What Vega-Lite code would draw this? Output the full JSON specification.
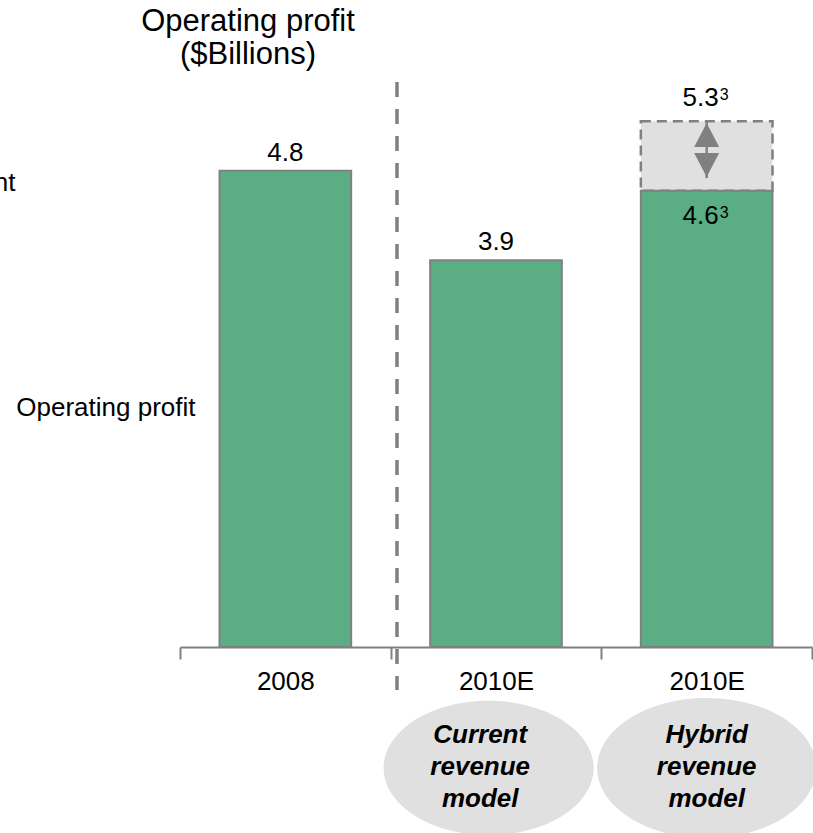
{
  "$schema": "https://vega.github.io/schema/vega-lite/v6.json",
  "width": 632,
  "height": 567,
  "autosize": {"type": "none"},
  "padding": {"left": 180, "top": 80, "right": 1, "bottom": 186},
  "background": "white",
  "title": {
    "text": ["Operating profit", "($Billions)"],
    "anchor": "start",
    "align": "center",
    "frame": "group",
    "dx": 68,
    "fontSize": 31,
    "lineHeight": 33,
    "font": "Liberation Sans",
    "fontWeight": "normal",
    "color": "black",
    "offset": 9
  },
  "data": {
    "values": [
      {"cat": "2008", "value": 4.8, "label": "4.8"},
      {"cat": "2010E|current", "value": 3.9, "label": "3.9", "model": ["Current", "revenue", "model"]},
      {"cat": "2010E|hybrid", "value": 4.6, "label": "4.6", "sup": "3", "upper": 5.3, "upperLabel": "5.3", "model": ["Hybrid", "revenue", "model"]}
    ]
  },
  "encoding": {
    "x": {
      "field": "cat",
      "type": "nominal",
      "sort": null,
      "scale": {"type": "band", "domain": ["2008", "2010E|current", "2010E|hybrid"], "paddingInner": 0, "paddingOuter": 0},
      "axis": {
        "title": null,
        "labelExpr": "split(datum.label, '|')[0]",
        "labelAngle": 0,
        "labelFont": "Liberation Sans",
        "labelFontSize": 26,
        "labelColor": "black",
        "labelPadding": 9,
        "tickBand": "extent",
        "tickSize": 12,
        "tickWidth": 2,
        "tickColor": "#808080",
        "domainColor": "#808080",
        "domainWidth": 2,
        "grid": false,
        "zindex": 1
      }
    }
  },
  "layer": [
    {
      "transform": [{"filter": "datum.cat === '2010E|current'"}],
      "mark": {"type": "point", "shape": "M-1,0 A1,0.64 0 1,1 1,0 A1,0.64 0 1,1 -1,0 Z", "size": 44100, "filled": true, "color": "#E0E0E0", "opacity": 1, "strokeWidth": 0},
      "encoding": {
        "x": {"field": "cat", "type": "nominal", "bandPosition": 0.465},
        "y": {
          "datum": -1.22,
          "type": "quantitative",
          "scale": {"domain": [0, 5.716], "nice": false, "zero": false},
          "axis": {
            "title": "Operating profit",
            "titleAngle": 0,
            "titleAlign": "right",
            "titleBaseline": "alphabetic",
            "titleX": 15,
            "titleY": 335,
            "titleFont": "Liberation Sans",
            "titleFontSize": 26,
            "titleFontWeight": "normal",
            "titleColor": "black",
            "domain": false,
            "ticks": false,
            "grid": false,
            "values": [4.607],
            "labelExpr": "'nt'",
            "labelFont": "Liberation Sans",
            "labelFontSize": 26,
            "labelColor": "black",
            "labelBaseline": "alphabetic",
            "labelPadding": 165
          }
        }
      }
    },
    {
      "transform": [{"filter": "datum.cat === '2010E|hybrid'"}],
      "mark": {"type": "point", "shape": "M-1,0 A1,0.64 0 1,1 1,0 A1,0.64 0 1,1 -1,0 Z", "size": 47961, "filled": true, "color": "#E0E0E0", "opacity": 1, "strokeWidth": 0},
      "encoding": {
        "y": {"datum": -1.22, "type": "quantitative"}
      }
    },
    {
      "transform": [{"filter": "isValid(datum.upper)"}],
      "mark": {"type": "bar", "width": {"band": 0.625}, "fill": "#E0E0E0", "stroke": "#808080", "strokeWidth": 2.5, "strokeDash": [10, 6]},
      "encoding": {
        "y": {"field": "value", "type": "quantitative"},
        "y2": {"field": "upper"}
      }
    },
    {
      "mark": {"type": "bar", "width": {"band": 0.625}, "fill": "#5BAE84", "stroke": "#808080", "strokeWidth": 2},
      "encoding": {
        "y": {"field": "value", "type": "quantitative"}
      }
    },
    {
      "transform": [{"filter": "isValid(datum.upper)"}],
      "mark": {"type": "rule", "color": "#808080", "strokeWidth": 2.5},
      "encoding": {
        "y": {"field": "upper", "type": "quantitative"},
        "y2": {"datum": 4.728}
      }
    },
    {
      "transform": [{"filter": "isValid(datum.upper)"}],
      "mark": {"type": "point", "shape": "M0,-0.96 L1,0.96 L-1,0.96 Z", "size": 625, "filled": true, "color": "#808080", "opacity": 1, "strokeWidth": 0},
      "encoding": {"y": {"datum": 5.161, "type": "quantitative"}}
    },
    {
      "transform": [{"filter": "isValid(datum.upper)"}],
      "mark": {"type": "point", "shape": "M0,0.96 L1,-0.96 L-1,-0.96 Z", "size": 625, "filled": true, "color": "#808080", "opacity": 1, "strokeWidth": 0},
      "encoding": {"y": {"datum": 4.859, "type": "quantitative"}}
    },
    {
      "transform": [{"filter": "datum.cat === '2010E|current'"}],
      "mark": {"type": "rule", "color": "#808080", "strokeWidth": 3.5, "strokeDash": [15, 12]},
      "encoding": {
        "x": {"field": "cat", "type": "nominal", "bandPosition": 0.03},
        "y": {"datum": 5.696, "type": "quantitative"},
        "y2": {"datum": -0.433}
      }
    },
    {
      "transform": [{"filter": "!isValid(datum.upper)"}],
      "mark": {"type": "text", "font": "Liberation Sans", "fontSize": 26, "color": "black", "baseline": "alphabetic", "dy": -10},
      "encoding": {
        "y": {"field": "value", "type": "quantitative"},
        "text": {"field": "label"}
      }
    },
    {
      "transform": [{"filter": "isValid(datum.upper)"}],
      "mark": {"type": "text", "font": "Liberation Sans", "fontSize": 26, "color": "black", "baseline": "alphabetic", "align": "right", "dy": 33, "dx": 12},
      "encoding": {
        "y": {"field": "value", "type": "quantitative"},
        "text": {"field": "label"}
      }
    },
    {
      "transform": [{"filter": "isValid(datum.upper)"}],
      "mark": {"type": "text", "font": "Liberation Sans", "fontSize": 16, "color": "black", "baseline": "alphabetic", "align": "left", "dy": 27, "dx": 13},
      "encoding": {
        "y": {"field": "value", "type": "quantitative"},
        "text": {"field": "sup"}
      }
    },
    {
      "transform": [{"filter": "isValid(datum.upper)"}],
      "mark": {"type": "text", "font": "Liberation Sans", "fontSize": 26, "color": "black", "baseline": "alphabetic", "align": "right", "dy": -15, "dx": 12},
      "encoding": {
        "y": {"field": "upper", "type": "quantitative"},
        "text": {"field": "upperLabel"}
      }
    },
    {
      "transform": [{"filter": "isValid(datum.upper)"}],
      "mark": {"type": "text", "font": "Liberation Sans", "fontSize": 16, "color": "black", "baseline": "alphabetic", "align": "left", "dy": -21, "dx": 13},
      "encoding": {
        "y": {"field": "upper", "type": "quantitative"},
        "text": {"field": "sup"}
      }
    },
    {
      "transform": [{"filter": "datum.cat === '2010E|current'"}],
      "mark": {"type": "text", "font": "Liberation Sans", "fontSize": 26, "fontWeight": "bold", "fontStyle": "italic", "color": "black", "baseline": "alphabetic", "lineHeight": 32},
      "encoding": {
        "x": {"field": "cat", "type": "nominal", "bandPosition": 0.425},
        "y": {"datum": -0.968, "type": "quantitative"},
        "text": {"field": "model"}
      }
    },
    {
      "transform": [{"filter": "datum.cat === '2010E|hybrid'"}],
      "mark": {"type": "text", "font": "Liberation Sans", "fontSize": 26, "fontWeight": "bold", "fontStyle": "italic", "color": "black", "baseline": "alphabetic", "lineHeight": 32},
      "encoding": {
        "y": {"datum": -0.968, "type": "quantitative"},
        "text": {"field": "model"}
      }
    }
  ],
  "config": {"view": {"stroke": null}}
}
